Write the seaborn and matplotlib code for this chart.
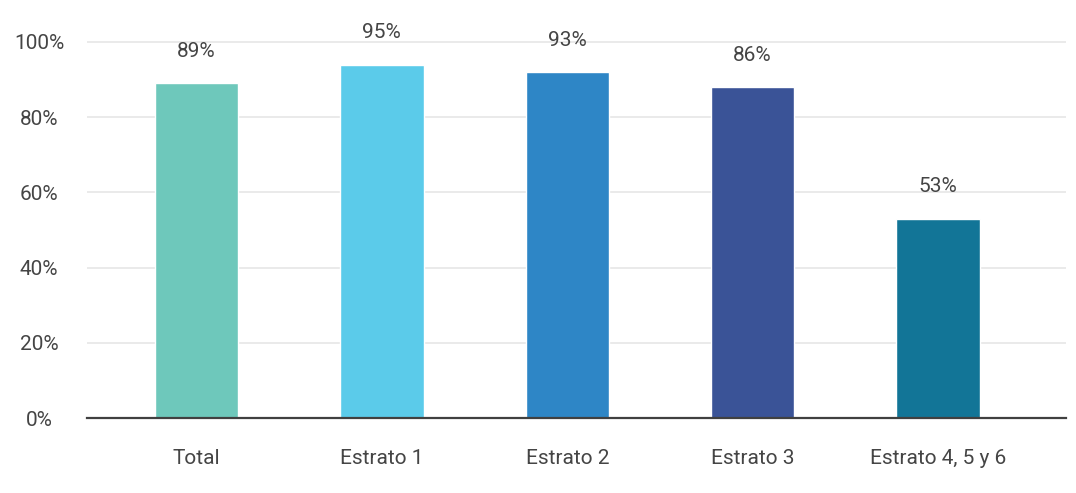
import matplotlib
matplotlib.use("Agg")
import matplotlib.pyplot as plt
import seaborn as sns
import pandas as pd

categories = ["Total", "Estrato 1", "Estrato 2", "Estrato 3", "Estrato 4, 5 y 6"]
bar_values = [89, 94, 92, 88, 53]
label_texts = ["89%", "95%", "93%", "86%", "53%"]
colors = ["#6EC8BB", "#5BCBEA", "#2E86C6", "#3A5397", "#127597"]
yticks = [0, 20, 40, 60, 80, 100]

sns.set_theme(style="white")
plt.rcParams["font.family"] = ["Roboto", "DejaVu Sans"]

df = pd.DataFrame({"cat": categories, "val": bar_values})

fig = plt.figure(figsize=(10.76, 4.93), dpi=100)
ax = fig.add_axes([0.0809, 0.1521, 0.9098, 0.8276])

sns.barplot(data=df, x="cat", y="val", hue="cat", palette=colors,
            legend=False, width=0.45, ax=ax, saturation=1, zorder=3)

ax.set_ylim(0, 108.5)
ax.set_xlim(-0.59, 4.69)
ax.set_yticks(yticks)
ax.set_yticklabels([f"{t}%" for t in yticks])
ax.yaxis.grid(True, color="#e6e6e6", linewidth=1.2, zorder=0)
ax.set_axisbelow(True)
for s in ["top", "right", "left"]:
    ax.spines[s].set_visible(False)
ax.spines["bottom"].set_color("#404040")
ax.spines["bottom"].set_linewidth(1.6)
ax.spines["bottom"].set_zorder(4)
ax.set_xlabel("")
ax.set_ylabel("")
ax.tick_params(axis="both", length=0, labelsize=15, colors="#454545")
ax.tick_params(axis="x", pad=22)
ax.tick_params(axis="y", pad=34.5)
for lbl in ax.get_yticklabels():
    lbl.set_horizontalalignment("center")

for i, (v, t) in enumerate(zip(bar_values, label_texts)):
    ax.annotate(t, xy=(i, v), xytext=(0, 23), textcoords="offset points",
                ha="center", va="center", fontsize=15, color="#454545")

fig.savefig("out.png", dpi=100)
